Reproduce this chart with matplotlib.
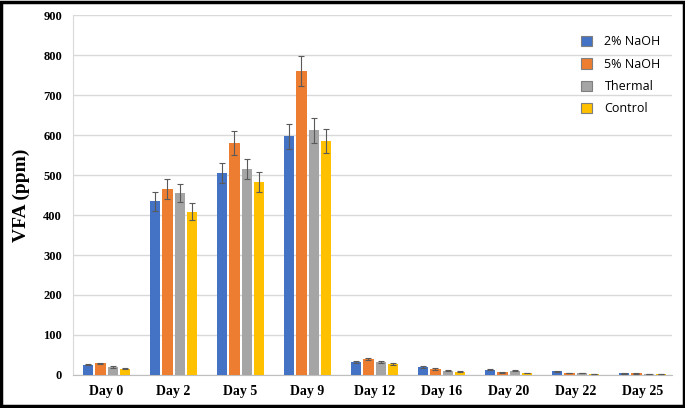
import numpy as np
import matplotlib.pyplot as plt
from matplotlib.patches import Rectangle

days = ['Day 0', 'Day 2', 'Day 5', 'Day 9', 'Day 12', 'Day 16', 'Day 20', 'Day 22', 'Day 25']
series = ['2% NaOH', '5% NaOH', 'Thermal', 'Control']
colors = ['#4472C4', '#ED7D31', '#A5A5A5', '#FFC000']

naoh2 = [26, 434, 506, 597, 33, 20, 13, 9, 4]
naoh5 = [29, 465, 580, 760, 40, 15, 7, 5, 4]
thermal = [20, 455, 515, 612, 32, 11, 11, 5, 3]
control = [16, 408, 483, 585, 28, 8, 5, 3, 2]

naoh2_err = [2, 23, 25, 31, 2, 1.5, 1, 1, 0.5]
naoh5_err = [2, 24, 29, 38, 3, 1.5, 1, 1, 0.5]
thermal_err = [2, 23, 26, 31, 2, 1.5, 1, 1, 0.5]
control_err = [1.5, 21, 25, 29, 2, 1, 1, 0.5, 0.5]

values = [naoh2, naoh5, thermal, control]
errors = [naoh2_err, naoh5_err, thermal_err, control_err]

fig = plt.figure(figsize=(6.85, 4.08), dpi=100)
ax = fig.add_axes([0.1066, 0.081, 0.8744, 0.882])

x = np.arange(len(days))
w = 0.15
step = 0.18
for i, (vals, errs) in enumerate(zip(values, errors)):
    ax.bar(x + (i - 1.5) * step, vals, w, color=colors[i], label=series[i],
           yerr=errs, ecolor='#5a5a5a',
           error_kw=dict(elinewidth=0.8, capsize=2, capthick=0.8), zorder=3)

ax.set_ylim(0, 900)
ax.set_xlim(-0.5, 8.44)
ax.set_yticks(range(0, 901, 100))
ax.set_xticks(x)
ax.set_xticklabels(days, fontfamily='Liberation Serif', fontweight='bold', fontsize=10)
for lab in ax.get_yticklabels():
    lab.set_fontfamily('Liberation Serif')
    lab.set_fontweight('bold')
    lab.set_fontsize(9)
ax.tick_params(length=0, pad=8)
ax.tick_params(axis='x', pad=7)
ax.grid(axis='y', color='#D9D9D9', lw=1, zorder=0)
for s in ['top', 'right']:
    ax.spines[s].set_visible(False)
ax.spines['left'].set_color('#D9D9D9')
ax.spines['bottom'].set_color('#BFBFBF')

ax.set_ylabel('VFA (ppm)', fontfamily='Liberation Serif', fontweight='bold', fontsize=14)
ax.yaxis.set_label_coords(-0.072, 0.5)

leg = ax.legend(loc='upper right', bbox_to_anchor=(1.0, 0.975), frameon=False,
                prop={'family': 'Open Sans', 'size': 9}, handlelength=0.9,
                handleheight=0.9, labelspacing=0.75, handletextpad=1.0)
for h in leg.legend_handles:
    h.set_edgecolor('#7f7f7f')
    h.set_linewidth(0.8)

fig.patches.append(Rectangle((0.002, 0.004), 0.996, 0.992, transform=fig.transFigure,
                             fill=False, edgecolor='black', lw=2.5))

fig.savefig('out.png', dpi=100)
